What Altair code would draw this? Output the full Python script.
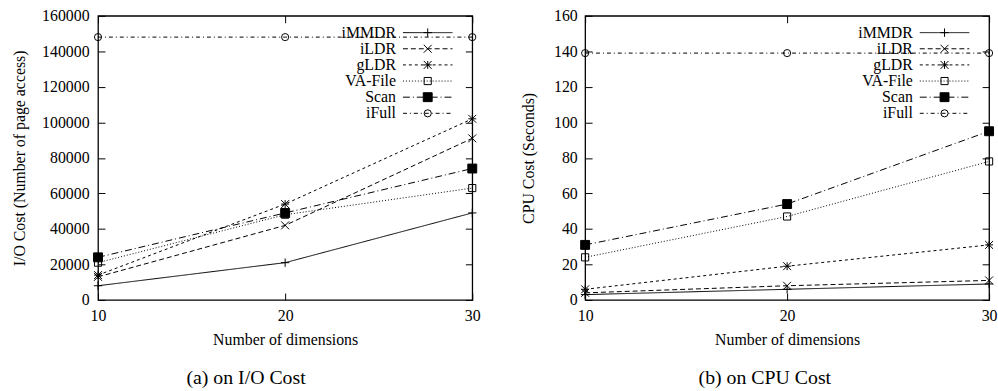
import altair as alt
import pandas as pd

dims = [10, 20, 30]
series = ["iMMDR", "iLDR", "gLDR", "VA-File", "Scan", "iFull"]

io_immdr = [8000, 21000, 49000]
io_ildr = [13000, 42000, 91000]
io_gldr = [14000, 54000, 102000]
io_vafile = [21000, 48000, 63000]
io_scan = [24000, 49000, 74000]
io_ifull = [148000, 148000, 148000]

cpu_immdr = [3, 6, 9]
cpu_ildr = [4, 8, 11]
cpu_gldr = [6, 19, 31]
cpu_vafile = [24, 47, 78]
cpu_scan = [31, 54, 95]
cpu_ifull = [139, 139, 139]

io_ticks = [0, 20000, 40000, 60000, 80000, 100000, 120000, 140000, 160000]
cpu_ticks = [0, 20, 40, 60, 80, 100, 120, 140, 160]

FONT = "Liberation Serif"
FS = 16

dash_range = [[1, 0], [5, 3], [3, 3], [1, 2], [7, 3, 1, 3], [4, 3, 1, 3]]
shape_range = [
    "M-1,0L1,0M0,-1L0,1",
    "M-1,-1L1,1M-1,1L1,-1",
    "M-1,0L1,0M0,-1L0,1M-1,-1L1,1M-1,1L1,-1",
    "square",
    "square",
    "circle",
]
fill_range = ["transparent", "transparent", "transparent", "transparent", "black", "transparent"]
size_range = [72, 64, 64, 52, 81, 52]


def long_df(vals):
    rows = []
    for s, v in zip(series, vals):
        for d, y in zip(dims, v):
            rows.append({"dim": d, "series": s, "value": y})
    return pd.DataFrame(rows)


def enc_common():
    return dict(
        strokeDash=alt.StrokeDash("series:N", scale=alt.Scale(domain=series, range=dash_range), legend=None),
    )


def point_enc():
    return dict(
        shape=alt.Shape("series:N", scale=alt.Scale(domain=series, range=shape_range), legend=None),
        fill=alt.Fill("series:N", scale=alt.Scale(domain=series, range=fill_range), legend=None),
        size=alt.Size("series:N", scale=alt.Scale(type="ordinal", domain=series, range=size_range), legend=None),
    )


def panel(vals, yticks, ymax, ytitle, caption, W, H, lab_pad, title_pad, cap_dx):
    df = long_df(vals)
    base = alt.Chart(df)
    xs = alt.Scale(domain=[10, 30], nice=False, zero=False)
    ys = alt.Scale(domain=[0, ymax], nice=False)
    lines = base.mark_line(color="black", strokeWidth=1).encode(
        x=alt.X("dim:Q", scale=xs, axis=alt.Axis(orient="bottom", values=dims, format="d", tickSize=7,
                                                  offset=-7, domain=False, grid=False, labelFlush=False,
                                                  title="Number of dimensions", labelPadding=8,
                                                  titlePadding=8)),
        y=alt.Y("value:Q", scale=ys, axis=alt.Axis(orient="left", values=yticks, format="d", tickSize=7,
                                                    offset=-7, domain=False, grid=False, title=ytitle,
                                                    labelFlush=False,
                                                    labelPadding=lab_pad, titlePadding=title_pad)),
        detail="series:N",
        **enc_common(),
    )
    pts = base.mark_point(filled=True, stroke="black", strokeWidth=1, opacity=1).encode(
        x=alt.X("dim:Q", scale=xs, axis=None),
        y=alt.Y("value:Q", scale=ys, axis=None),
        **point_enc(),
    )
    mirror = base.mark_point(opacity=0).encode(
        x=alt.X("dim:Q", scale=xs, axis=alt.Axis(orient="top", values=dims, labels=False, tickSize=7,
                                                  offset=-7, domain=False, grid=False, title=None)),
        y=alt.Y("value:Q", scale=ys, axis=alt.Axis(orient="right", values=yticks, labels=False, tickSize=7,
                                                    offset=-7, domain=False, grid=False, title=None)),
    )
    leg = alt.Chart(pd.DataFrame({"series": series, "idx": list(range(len(series)))})).transform_calculate(
        py="17 + 16.3 * datum.idx"
    )
    ly = alt.Y("py:Q", scale=None, axis=None)
    leg_text = leg.mark_text(align="right", baseline="middle", font=FONT, fontSize=FS, color="black").encode(
        x=alt.value(W - 77), y=ly, text="series:N"
    )
    leg_rule = leg.mark_rule(color="black", strokeWidth=1).encode(
        x=alt.value(W - 70), x2=alt.value(W - 20), y=ly, **enc_common()
    )
    leg_pt = leg.mark_point(filled=True, stroke="black", strokeWidth=1, opacity=1).encode(
        x=alt.value(W - 45), y=ly, **point_enc()
    )
    return alt.layer(lines, pts, mirror, leg_text, leg_rule, leg_pt).resolve_axis(
        x="independent", y="independent"
    ).properties(
        width=W, height=H,
        title=alt.TitleParams(caption, orient="bottom", font=FONT, fontSize=20, fontWeight="normal",
                              color="black", frame="bounds", anchor="middle", offset=21, dx=cap_dx),
    )


left = panel([io_immdr, io_ildr, io_gldr, io_vafile, io_scan, io_ifull], io_ticks, 160000,
             "I/O Cost (Number of page access)", "(a) on I/O Cost", 378, 287, 9, 14, 0)
right = panel([cpu_immdr, cpu_ildr, cpu_gldr, cpu_vafile, cpu_scan, cpu_ifull], cpu_ticks, 160,
              "CPU Cost (Seconds)", "(b) on CPU Cost", 408, 287, 8, 17, 6)

chart = alt.hconcat(left, right, spacing=39).properties(
    padding={"left": 11, "top": 5, "right": 0, "bottom": 0}
).configure_view(stroke="black", strokeWidth=1.3).configure_axis(
    labelFont=FONT, labelFontSize=FS, labelColor="black", titleFont=FONT, titleFontSize=FS,
    titleFontWeight="normal", titleColor="black", tickColor="black", tickWidth=1
)

chart.save("out.html", embed_options={"renderer": "svg", "actions": False})
